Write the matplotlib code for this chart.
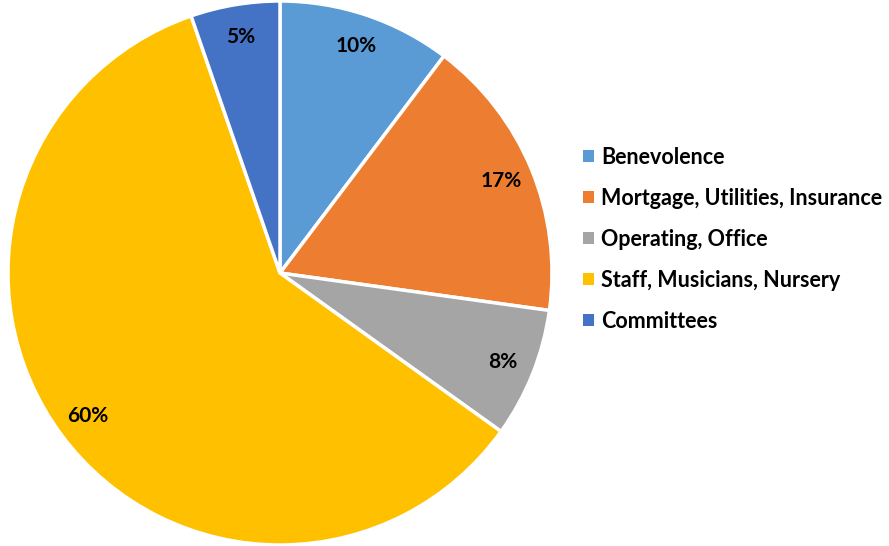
import matplotlib
matplotlib.use("Agg")
from matplotlib import pyplot as plt
from matplotlib.patches import Patch

categories = ["Benevolence", "Mortgage, Utilities, Insurance", "Operating, Office",
              "Staff, Musicians, Nursery", "Committees"]
shares = [10.3, 16.9, 7.7, 59.8, 5.3]
colors = ["#5B9BD5", "#ED7D31", "#A5A5A5", "#FFC000", "#4472C4"]

plt.rcParams['font.family'] = ['Lato', 'DejaVu Sans']

fig = plt.figure(figsize=(8.89, 5.46), dpi=100)
ax = fig.add_axes([8 / 889, 1 / 546, 544 / 889, 544 / 546])

wedges, texts, autotexts = ax.pie(
    shares, colors=colors, startangle=90, counterclock=False,
    autopct='%1.0f%%', pctdistance=0.88,
    wedgeprops=dict(edgecolor='white', linewidth=2.5),
    textprops=dict(fontsize=15, fontweight='bold', color='black'))
ax.set_aspect('equal')
ax.set_xlim(-1.0, 1.0)
ax.set_ylim(-1.0, 1.0)

handles = [Patch(facecolor=c, edgecolor='none') for c in colors]
fig.legend(handles, categories, loc='center left', bbox_to_anchor=(0.634, 0.562),
           frameon=False, prop=dict(family=['Lato', 'DejaVu Sans'], weight='bold', size=15.5),
           handlelength=0.5, handleheight=0.5, handletextpad=0.35, labelspacing=0.93)

plt.savefig("out.png", dpi=100)
